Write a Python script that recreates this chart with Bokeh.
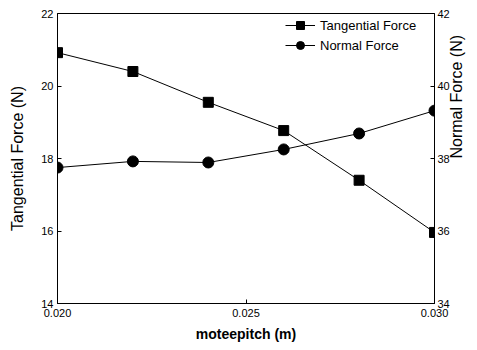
import math
from bokeh.plotting import figure
from bokeh.models import Range1d, LinearAxis, FixedTicker, NumeralTickFormatter, Legend, LegendItem
from bokeh.embed import file_html
from bokeh.resources import INLINE

pitch = [0.020, 0.022, 0.024, 0.026, 0.028, 0.030]
tangential = [20.92, 20.40, 19.55, 18.77, 17.40, 15.96]
normal = [37.75, 37.92, 37.89, 38.25, 38.69, 39.32]

x_ticks = [0.020, 0.025, 0.030]
left_ticks = [14, 16, 18, 20, 22]
right_ticks = [34, 36, 38, 40, 42]

FONT = "Liberation Sans"

p = figure(width=477, height=350, output_backend="svg", toolbar_location=None,
           x_range=Range1d(0.020, 0.030), y_range=Range1d(14, 22),
           min_border_left=57, min_border_right=43, min_border_top=13, min_border_bottom=47)
p.extra_y_ranges = {"normal": Range1d(34, 42)}
p.grid.visible = False
p.outline_line_color = "black"
p.outline_line_width = 1
p.background_fill_color = "white"
p.border_fill_color = "white"

def style(ax, ticks):
    ax.ticker = FixedTicker(ticks=ticks)
    ax.major_tick_in = 4
    ax.major_tick_out = 0
    ax.minor_tick_line_color = None
    ax.axis_line_color = "black"
    ax.major_tick_line_color = "black"
    ax.major_label_text_font = FONT
    ax.major_label_text_font_size = "11px"
    ax.major_label_text_color = "black"
    ax.axis_label_text_font = FONT
    ax.axis_label_text_color = "black"
    ax.axis_label_text_font_style = "normal"
    ax.axis_label_text_font_size = "16px"

xa = p.xaxis[0]
style(xa, x_ticks)
xa.formatter = NumeralTickFormatter(format="0.000")
xa.axis_label = "moteepitch (m)"
xa.axis_label_text_font_style = "bold"
xa.axis_label_text_font_size = "14px"
xa.major_label_standoff = 5
xa.axis_label_standoff = 6

ya = p.yaxis[0]
style(ya, left_ticks)
ya.axis_label = "Tangential Force (N)"
ya.major_label_standoff = 4
ya.axis_label_standoff = 12

ra = LinearAxis(y_range_name="normal", axis_label="Normal Force (N)")
style(ra, right_ticks)
ra.major_label_standoff = 3
ra.axis_label_standoff = 4
if "axis_label_orientation" in ra.properties():
    ra.axis_label_orientation = math.pi / 2
p.add_layout(ra, "right")

t_line = p.line(pitch, tangential, line_color="black", line_width=1)
t_mark = p.scatter(pitch, tangential, marker="square", size=10, fill_color="black", line_color="black")
n_line = p.line(pitch, normal, line_color="black", line_width=1, y_range_name="normal")
n_mark = p.scatter(pitch, normal, marker="circle", size=11, fill_color="black", line_color="black",
                   y_range_name="normal")

nan = float("nan")
t_leg = p.scatter([nan], [nan], marker="square", size=7, fill_color="black", line_color="black")
n_leg = p.scatter([nan], [nan], marker="circle", size=8, fill_color="black", line_color="black")

legend = Legend(items=[LegendItem(label="Tangential Force", renderers=[t_line, t_leg]),
                       LegendItem(label="Normal Force", renderers=[n_line, n_leg])],
                location="top_right")
legend.border_line_color = None
legend.background_fill_alpha = 0
legend.label_text_font = FONT
legend.label_text_font_size = "13px"
legend.label_text_color = "black"
legend.glyph_width = 30
legend.glyph_height = 20
legend.label_standoff = 5
legend.label_width = 112
legend.spacing = 0
legend.padding = 2
legend.margin = 2
p.add_layout(legend)

open("out.html", "w").write(file_html(p, INLINE))
